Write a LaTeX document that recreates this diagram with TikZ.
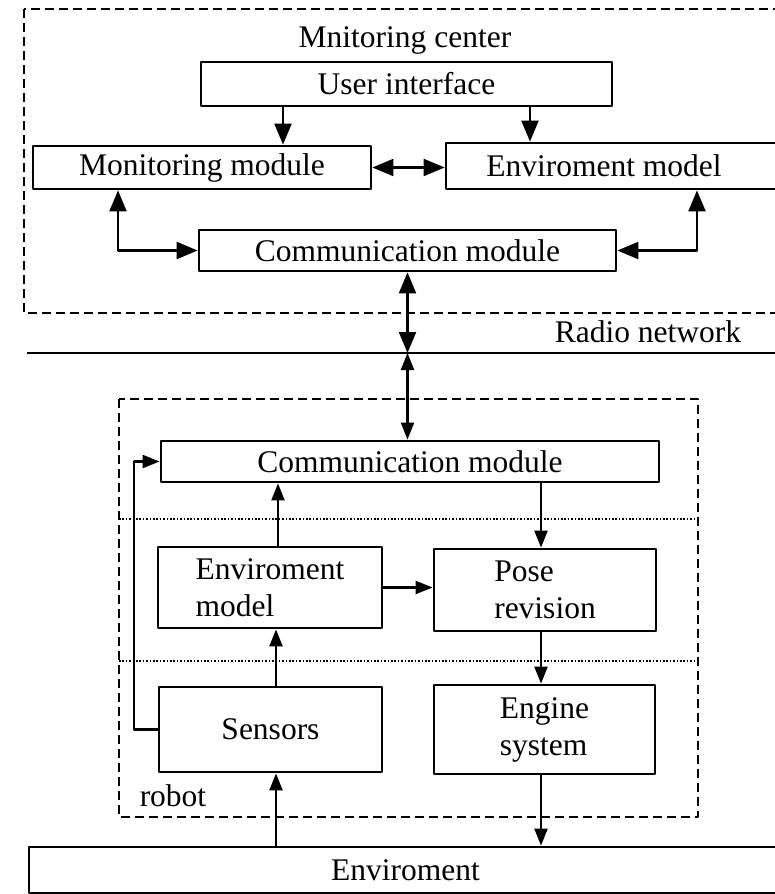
\documentclass[tikz,border=0pt]{standalone}
\usepackage{fontspec}
\setmainfont{Liberation Serif}
\usetikzlibrary{arrows.meta}

\tikzset{
  box/.style={draw,line width=2.8pt,inner sep=0pt,align=center},
  frame/.style={line width=2.2pt,dash pattern=on 9pt off 5pt},
  sep/.style={line width=1.6pt,dash pattern=on 1.6pt off 1.8pt},
  small/.style={>={Triangle[length=17pt,width=13pt]}}
}

\begin{document}
\begin{tikzpicture}[x=1pt,y=-1pt,line join=round,line width=2.2pt,
    >={Triangle[length=21pt,width=17pt]},
    font=\fontsize{31.5}{37}\selectfont]
  \clip (0,0) rectangle (775,894);
  % monitoring center
  \draw[frame] (24,9) rectangle (792,313);
  \node (title) at (405,40) {Mnitoring center};
  \node[box,minimum width=411pt,minimum height=44pt] (ui) at (406.5,84) {User interface};
  \node[box,minimum width=338pt,minimum height=43pt] (mon) at (202,167.5) {Monitoring module};
  \node[box,minimum width=336pt,minimum height=46pt] (envtop) at (614,166) {Enviroment model\hspace*{20pt}};
  \node[box,minimum width=417pt,minimum height=41pt] (cmtop) at (407.5,250.5) {Communication module};
  \draw[->] (283,0 |- ui.south) -- (283,0 |- mon.north);
  \draw[->] (530,0 |- ui.south) -- (530,0 |- envtop.north);
  \draw[<->] (mon.east) -- (mon.east -| envtop.west);
  \draw[<->] (118,0 |- mon.south) |- (cmtop.west);
  \draw[<->] (697,0 |- envtop.south) |- (cmtop.east);
  % radio network
  \coordinate (rl) at (27,353);
  \coordinate (rr) at (775,353);
  \draw[line width=2.6pt] (rl) -- (rr);
  \node (radio) at (648,332) {Radio network};
  \draw[<->] (cmtop.south) -- (cmtop.south |- rl);
  % robot
  \draw[frame] (119,399) rectangle (698,817);
  \node (robot) at (173,796) {robot};
  \node[box,minimum width=498pt,minimum height=41pt] (cmbot) at (410,461.5) {Communication module};
  \node[box,align=left,minimum width=224pt,minimum height=81pt] (envbot) at (270,587.5) {Enviroment\\model};
  \node[box,align=left,minimum width=222pt,minimum height=82pt] (pose) at (545,590) {Pose\\revision};
  \node[box,minimum width=223pt,minimum height=85pt] (sens) at (270.5,729.5) {Sensors};
  \node[box,align=left,minimum width=221pt,minimum height=89pt] (engine) at (544.5,729.5) {Engine\\system};
  \draw[sep] (119,519) -- (698,519);
  \draw[sep] (119,661) -- (698,661);
  \draw[small,<->] (cmtop.south |- rl) -- (cmtop.south |- cmbot.north);
  \draw[small,->] (278,0 |- envbot.north) -- (278,0 |- cmbot.south);
  \draw[small,->] (541,0 |- cmbot.south) -- (541,0 |- pose.north);
  \draw[small,->] (envbot.east) -- (envbot.east -| pose.west);
  \draw[small,->] (276,0 |- sens.north) -- (276,0 |- envbot.south);
  \draw[small,->] (541,0 |- pose.south) -- (541,0 |- engine.north);
  \draw[small,->] (sens.west) -- (134,0 |- sens.west) |- (cmbot.west);
  % enviroment
  \node[box,minimum width=753pt,minimum height=46pt] (env) at (405.5,870) {Enviroment};
  \draw[small,->] (276,0 |- env.north) -- (276,0 |- sens.south);
  \draw[small,->] (541,0 |- engine.south) -- (541,0 |- env.north);
\end{tikzpicture}
\end{document}
